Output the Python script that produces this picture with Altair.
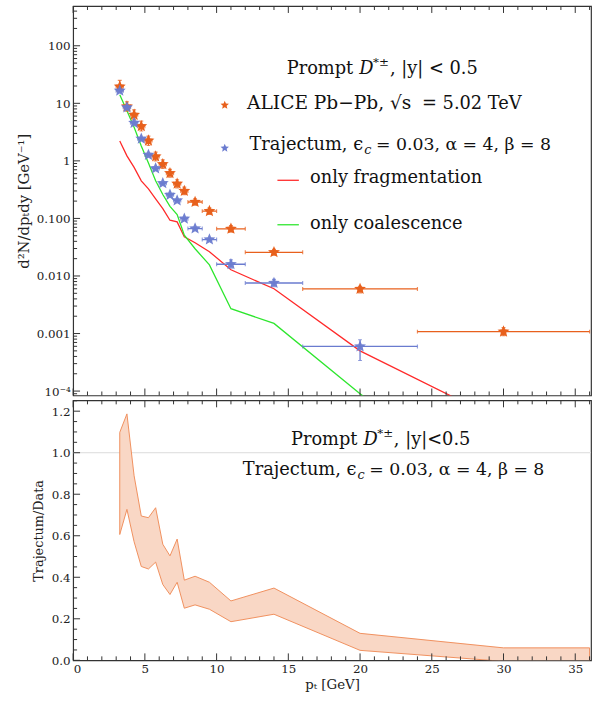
import altair as alt
import pandas as pd

# ---------------- data ----------------
pt = [3.25, 3.75, 4.25, 4.75, 5.25, 5.75, 6.25, 6.75, 7.25, 7.75, 8.5, 9.5, 11, 14, 20, 30]
bin_lo = [3.0, 3.5, 4.0, 4.5, 5.0, 5.5, 6.0, 6.5, 7.0, 7.5, 8, 9, 10, 12, 16, 24]
bin_hi = [3.5, 4.0, 4.5, 5.0, 5.5, 6.0, 6.5, 7.0, 7.5, 8.0, 9, 10, 12, 16, 24, 36]

alice_val = [19.5, 8.8, 6.3, 4.0, 2.25, 1.19, 0.877, 0.61, 0.40, 0.30, 0.193, 0.134, 0.066, 0.0258, 0.00595, 0.00108]
alice_lo = [16.0, 7.3, 5.2, 3.3, 1.85, 1.0, 0.74, 0.52, 0.34, 0.26, 0.17, 0.118, 0.058, 0.0230, 0.0051, 0.00092]
alice_hi = [25.0, 10.6, 7.7, 4.9, 2.7, 1.42, 1.04, 0.71, 0.47, 0.35, 0.22, 0.152, 0.075, 0.0290, 0.0066, 0.00127]

traj_pt = [3.25, 3.75, 4.25, 4.75, 5.25, 5.75, 6.25, 6.75, 7.25, 7.75, 8.5, 9.5, 11, 14, 20]
traj_blo = [3.0, 3.5, 4.0, 4.5, 5.0, 5.5, 6.0, 6.5, 7.0, 7.5, 8, 9, 10, 12, 16]
traj_bhi = [3.5, 4.0, 4.5, 5.0, 5.5, 6.0, 6.5, 7.0, 7.5, 8.0, 9, 10, 12, 16, 24]
traj_val = [16.5, 8.5, 4.57, 2.42, 1.27, 0.74, 0.41, 0.257, 0.205, 0.099, 0.0667, 0.043, 0.016, 0.00755, 0.000597]
traj_lo = [15.7, 8.1, 4.35, 2.3, 1.21, 0.70, 0.39, 0.244, 0.195, 0.094, 0.063, 0.041, 0.0137, 0.0065, 0.00034]
traj_hi = [17.3, 8.9, 4.8, 2.54, 1.33, 0.78, 0.43, 0.27, 0.215, 0.104, 0.070, 0.045, 0.0191, 0.0087, 0.00078]

frag_val = [2.21, 1.22, 0.77, 0.45, 0.326, 0.219, 0.148, 0.093, 0.087, 0.048, 0.0377, 0.0264, 0.0128, 0.006, 0.0005, 0.000029]
coal_val = [14.1, 7.4, 3.85, 1.81, 0.92, 0.45, 0.26, 0.162, 0.117, 0.051, 0.0297, 0.0156, 0.0027, 0.0015, 0.00009, 0.000001]

ratio_pt = [3.25, 3.75, 4.25, 4.75, 5.25, 5.75, 6.25, 6.75, 7.25, 7.75, 8.5, 9.5, 11, 14, 20, 30, 36]
ratio_hi = [1.098, 1.187, 0.889, 0.695, 0.687, 0.735, 0.559, 0.503, 0.584, 0.386, 0.405, 0.376, 0.286, 0.348, 0.13, 0.06, 0.06]
ratio_lo = [0.606, 0.727, 0.571, 0.452, 0.44, 0.473, 0.365, 0.317, 0.376, 0.251, 0.267, 0.246, 0.186, 0.222, 0.048, -0.005, -0.005]

x_major = [0, 5, 10, 15, 20, 25, 30, 35]
x_minor = [v for v in range(0, 37) if v % 5]
top_major = [1e-4, 1e-3, 1e-2, 1e-1, 1, 10, 100]
top_minor = [m * 10.0 ** e for e in range(-5, 3) for m in range(2, 10) if 8.4e-5 <= m * 10.0 ** e <= 490]
bot_major = [0.0, 0.2, 0.4, 0.6, 0.8, 1.0, 1.2]
bot_minor = [round(0.05 * i, 2) for i in range(0, 26) if i % 4]

# ---------------- style ----------------
FONT = "DejaVu Serif"
ORANGE = "#e8601c"
BLUE = "#6a7bcf"
RED = "#ff2a2a"
GREEN = "#2ee62e"
BAND_FILL = "#f9d7c5"
BAND_LINE = "#f0905e"
TICK = "#333333"
FS = 18
STAR = ("M0,-1L0.265,-0.364L0.951,-0.309L0.428,0.139L0.588,0.809L0,0.45"
        "L-0.588,0.809L-0.428,0.139L-0.951,-0.309L-0.265,-0.364Z")

W, H1, H2 = 524, 394, 263
xs = alt.Scale(domain=[0, 36.1], nice=False, zero=False)
ys_top = alt.Scale(type="log", domain=[8.4e-5, 490], nice=False)
ys_bot = alt.Scale(domain=[0, 1.252], nice=False, zero=False)

ax_top_y = alt.Axis(values=top_major, ticks=False, domain=False, grid=False,
                    labelPadding=3, minExtent=37, maxExtent=37, titlePadding=5,
                    title="d²N/dpₜdy [GeV⁻¹]", titleFontSize=15,
                    labelExpr="datum.value >= 1 ? format(datum.value, 'd') : (datum.value < 0.0005 ? '10⁻⁴' : format(datum.value, '.3f'))")
ax_bot_y = alt.Axis(values=bot_major, ticks=False, domain=False, grid=False,
                    labelPadding=3, minExtent=26, maxExtent=26, titlePadding=2,
                    title="Trajectum/Data", titleFontSize=13, format=".1f")
ax_bot_x = alt.Axis(values=x_major, ticks=False, domain=False, grid=False,
                    labelPadding=3, format="d", title="pₜ [GeV]", titleFontSize=13.5,
                    titlePadding=4)

ann = pd.DataFrame({"k": [0]})


def txt(s, x, y, align="left", size=FS, style="normal"):
    return alt.Chart(ann).mark_text(text=s, align=align, baseline="alphabetic", font=FONT,
                                    fontSize=size, fontStyle=style, color="#111111").encode(
        x=alt.value(x), y=alt.value(y))


def yt(field):
    return alt.Y(field, type="quantitative", scale=ys_top, axis=ax_top_y)


def xt(field):
    return alt.X(field, type="quantitative", scale=xs, axis=None)


# ---------------- top panel ----------------
df_a = pd.DataFrame({"pt": pt, "xlo": bin_lo, "xhi": bin_hi, "v": alice_val, "lo": alice_lo, "hi": alice_hi})
df_t = pd.DataFrame({"pt": traj_pt, "xlo": traj_blo, "xhi": traj_bhi, "v": traj_val, "lo": traj_lo, "hi": traj_hi})
df_f = pd.DataFrame({"pt": pt, "v": frag_val})
df_c = pd.DataFrame({"pt": pt, "v": coal_val})


def err_layers(df, color):
    base = alt.Chart(df)
    return [
        base.mark_rule(color=color, strokeWidth=1.3, clip=True).encode(x=xt("xlo"), x2="xhi", y=yt("v")),
        base.mark_rule(color=color, strokeWidth=1.3, clip=True).encode(x=xt("pt"), y=yt("lo"), y2="hi"),
        base.mark_tick(color=color, orient="vertical", size=4, thickness=1.2, clip=True).encode(x=xt("xlo"), y=yt("v")),
        base.mark_tick(color=color, orient="vertical", size=4, thickness=1.2, clip=True).encode(x=xt("xhi"), y=yt("v")),
        base.mark_tick(color=color, orient="horizontal", size=4, thickness=1.2, clip=True).encode(x=xt("pt"), y=yt("lo")),
        base.mark_tick(color=color, orient="horizontal", size=4, thickness=1.2, clip=True).encode(x=xt("pt"), y=yt("hi")),
    ]


top_layers = [
    alt.Chart(df_f).mark_line(color=RED, strokeWidth=1.3, clip=True).encode(x=xt("pt"), y=yt("v")),
    alt.Chart(df_c).mark_line(color=GREEN, strokeWidth=1.3, clip=True).encode(x=xt("pt"), y=yt("v")),
]
top_layers += err_layers(df_a, ORANGE)
top_layers.append(alt.Chart(df_a).mark_point(shape=STAR, filled=True, size=160, color=ORANGE,
                                             opacity=1).encode(x=xt("pt"), y=yt("v")))
top_layers += err_layers(df_t, BLUE)
top_layers.append(alt.Chart(df_t).mark_point(shape=STAR, filled=True, size=160, color=BLUE,
                                             opacity=0.95).encode(x=xt("pt"), y=yt("v")))

# ticks (inward, Mathematica frame style)
for vals, L in [(top_major, 7), (top_minor, 4)]:
    top_layers.append(alt.Chart(pd.DataFrame({"v": vals})).mark_rule(color=TICK, strokeWidth=1).encode(
        y=yt("v"), x=alt.value(0), x2=alt.value(L)))
for vals, L in [(x_major, 7), (x_minor, 4)]:
    d = pd.DataFrame({"v": vals})
    top_layers.append(alt.Chart(d).mark_rule(color=TICK, strokeWidth=1).encode(
        x=xt("v"), y=alt.value(0), y2=alt.value(L)))
    top_layers.append(alt.Chart(d).mark_rule(color=TICK, strokeWidth=1).encode(
        x=xt("v"), y=alt.value(H1 - L), y2=alt.value(H1)))

# annotation / legend (pixel positions inside the plot area)
top_layers += [
    txt("Prompt", 283.4, 69, align="right"),
    txt("D", 289.4, 69, style="italic"),
    txt("*±", 303.5, 61, size=12),
    txt(", |y| < 0.5", 320.5, 69),
    alt.Chart(ann).mark_point(shape=STAR, filled=True, size=80, color=ORANGE, opacity=1).encode(
        x=alt.value(153.4), y=alt.value(100.3)),
    txt("ALICE Pb−Pb, √s", 176, 103.7, size=18.8),
    txt("= 5.02 TeV", 353, 103.7),
    alt.Chart(ann).mark_point(shape=STAR, filled=True, size=80, color=BLUE, opacity=1).encode(
        x=alt.value(153.4), y=alt.value(143.7)),
    txt("Trajectum, ϵ", 293.4, 145.3, align="right"),
    txt("c", 294.5, 149.3, size=13, style="italic"),
    txt("= 0.03, α = 4, β = 8", 306.4, 145.3, size=17.5),
    alt.Chart(ann).mark_rule(color=RED, strokeWidth=1.3).encode(
        x=alt.value(206.7), x2=alt.value(228.4), y=alt.value(176.3)),
    txt("only fragmentation", 239.7, 178.7),
    alt.Chart(ann).mark_rule(color=GREEN, strokeWidth=1.3).encode(
        x=alt.value(206.7), x2=alt.value(228.4), y=alt.value(221.3)),
    txt("only coalescence", 239.7, 225.3),
]

top = alt.layer(*top_layers).properties(width=W, height=H1)

# ---------------- bottom panel ----------------
df_r = pd.DataFrame({"pt": ratio_pt, "hi": ratio_hi, "lo": ratio_lo})


def yb(field):
    return alt.Y(field, type="quantitative", scale=ys_bot, axis=ax_bot_y)


def xb(field):
    return alt.X(field, type="quantitative", scale=xs, axis=ax_bot_x)


bot_layers = [
    alt.Chart(pd.DataFrame({"v": [1.0]})).mark_rule(color="#dcdcdc", strokeWidth=1).encode(y=yb("v")),
    alt.Chart(df_r).mark_area(fill=BAND_FILL, fillOpacity=1, stroke=BAND_LINE, strokeWidth=1,
                              opacity=1, clip=True).encode(x=xb("pt"), y=yb("hi"), y2="lo"),
]
for vals, L in [(bot_major, 7), (bot_minor, 4)]:
    bot_layers.append(alt.Chart(pd.DataFrame({"v": vals})).mark_rule(color=TICK, strokeWidth=1).encode(
        y=yb("v"), x=alt.value(0), x2=alt.value(L)))
for vals, L in [(x_major, 7), (x_minor, 4)]:
    d = pd.DataFrame({"v": vals})
    bot_layers.append(alt.Chart(d).mark_rule(color=TICK, strokeWidth=1).encode(
        x=xb("v"), y=alt.value(0), y2=alt.value(L)))
    bot_layers.append(alt.Chart(d).mark_rule(color=TICK, strokeWidth=1).encode(
        x=xb("v"), y=alt.value(H2 - L), y2=alt.value(H2)))

bot_layers += [
    txt("Prompt", 287.7, 44.7, align="right"),
    txt("D", 293.7, 44.7, style="italic"),
    txt("*±", 307.7, 36.7, size=12),
    txt(", |y|<0.5", 324.5, 44.7),
    txt("Trajectum, ϵ", 286.7, 75.7, align="right"),
    txt("c", 287.8, 79.7, size=13, style="italic"),
    txt("= 0.03, α = 4, β = 8", 299.7, 75.7, size=17.5),
]

bottom = alt.layer(*bot_layers).properties(width=W, height=H2)

chart = alt.vconcat(top, bottom, spacing=0, background="white",
                    padding={"left": 16, "top": 0, "right": 0, "bottom": 0}).configure_view(
    stroke="#333333", strokeWidth=1.2
).configure_axis(
    labelFont=FONT, labelFontSize=12, labelColor="#222222",
    titleFont=FONT, titleColor="#222222", titleFontWeight="normal"
)

chart.save("out.html", embed_options={"renderer": "svg", "actions": False})
